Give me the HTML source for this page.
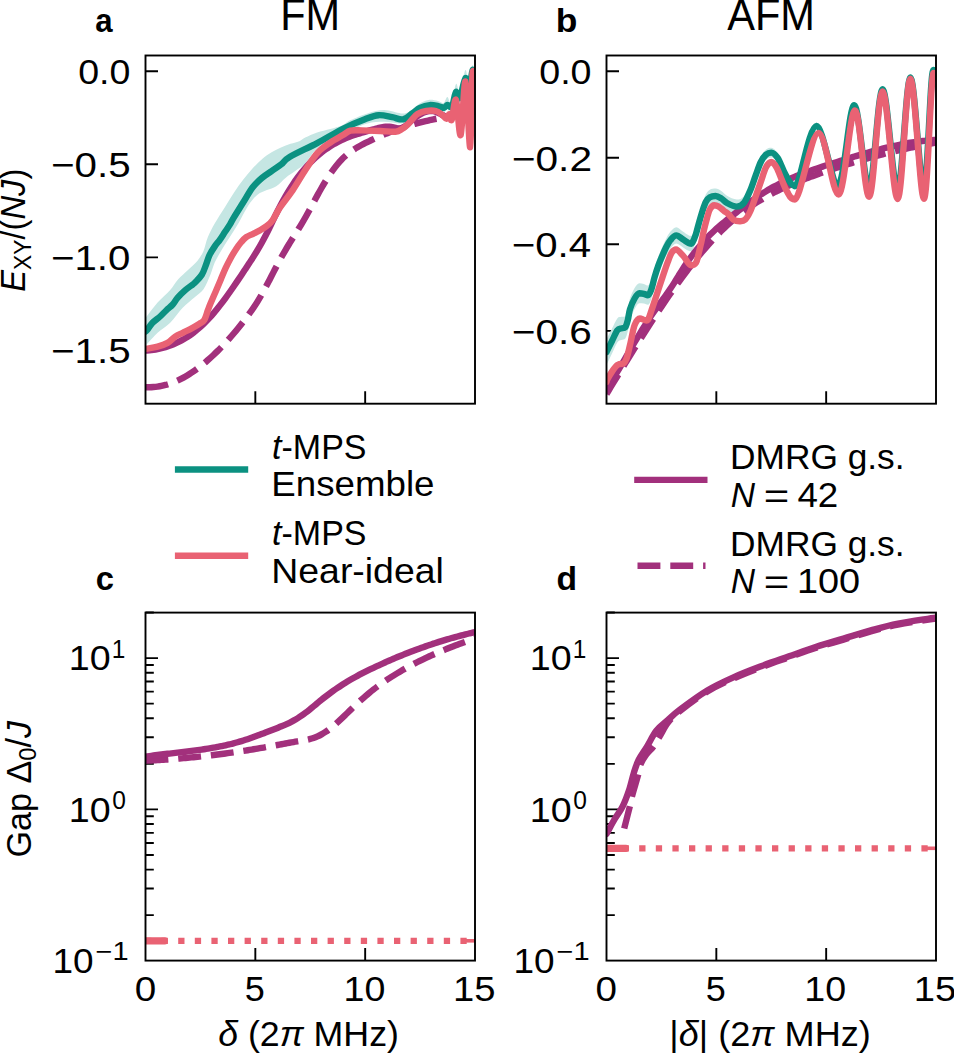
<!DOCTYPE html>
<html><head><meta charset="utf-8"><title>Figure</title>
<style>html,body{margin:0;padding:0;background:#fff;overflow:hidden}svg{display:block;font-family:"Liberation Sans",sans-serif;font-kerning:none}</style>
</head><body>
<svg width="954" height="1054" viewBox="0 0 954 1054"><defs><clipPath id="cla"><rect x="145.5" y="55.5" width="329.5" height="348.2"/></clipPath><clipPath id="clb"><rect x="606.5" y="55.5" width="329.5" height="348.2"/></clipPath><clipPath id="clc"><rect x="145.5" y="612.6" width="329.5" height="348.0"/></clipPath><clipPath id="cld"><rect x="606.5" y="612.6" width="329.5" height="348.0"/></clipPath></defs>
<path d="M255.33,403.7 V391.2 M365.17,403.7 V391.2 M716.33,403.7 V391.2 M826.17,403.7 V391.2 M255.33,960.6 V948.1 M365.17,960.6 V948.1 M716.33,960.6 V948.1 M826.17,960.6 V948.1 M145.5,71.2 H158 M145.5,164.3 H158 M145.5,257.4 H158 M145.5,350.5 H158 M606.5,71.2 H619 M606.5,157.75 H619 M606.5,244.3 H619 M606.5,330.85 H619 M145.5,809.40 H158.0 M145.5,658.10 H158.0 M606.5,809.40 H619.0 M606.5,658.10 H619.0" stroke="#000" stroke-width="1.9" fill="none"/>
<path d="M145.5,915.15 H153.8 M145.5,888.51 H153.8 M145.5,869.61 H153.8 M145.5,854.95 H153.8 M145.5,842.97 H153.8 M145.5,832.84 H153.8 M145.5,824.06 H153.8 M145.5,816.32 H153.8 M145.5,763.85 H153.8 M145.5,737.21 H153.8 M145.5,718.31 H153.8 M145.5,703.65 H153.8 M145.5,691.67 H153.8 M145.5,681.54 H153.8 M145.5,672.76 H153.8 M145.5,665.02 H153.8 M145.5,612.55 H153.8 M606.5,915.15 H614.8 M606.5,888.51 H614.8 M606.5,869.61 H614.8 M606.5,854.95 H614.8 M606.5,842.97 H614.8 M606.5,832.84 H614.8 M606.5,824.06 H614.8 M606.5,816.32 H614.8 M606.5,763.85 H614.8 M606.5,737.21 H614.8 M606.5,718.31 H614.8 M606.5,703.65 H614.8 M606.5,691.67 H614.8 M606.5,681.54 H614.8 M606.5,672.76 H614.8 M606.5,665.02 H614.8 M606.5,612.55 H614.8" stroke="#000" stroke-width="1.9" fill="none"/>
<g clip-path="url(#cla)"><path d="M145.50,318.00 C149.53,312.87 153.48,307.25 157.60,302.60 C161.72,297.95 166.80,293.95 170.20,290.10 C173.60,286.25 175.03,282.85 178.00,279.50 C180.97,276.15 184.78,273.10 188.00,270.00 C191.22,266.90 194.72,264.08 197.30,260.90 C199.88,257.72 201.75,254.85 203.50,250.90 C205.25,246.95 205.88,241.85 207.80,237.20 C209.72,232.55 212.23,227.88 215.00,223.00 C217.77,218.12 221.25,212.93 224.40,207.90 C227.55,202.87 230.75,197.52 233.90,192.80 C237.05,188.08 240.17,183.68 243.30,179.60 C246.43,175.52 249.55,171.75 252.70,168.30 C255.85,164.85 259.05,161.57 262.20,158.90 C265.35,156.23 268.47,154.20 271.60,152.30 C274.73,150.40 277.85,148.92 281.00,147.50 C284.15,146.08 287.35,144.90 290.50,143.80 C293.65,142.70 297.45,141.93 299.90,140.90 C302.35,139.87 302.33,139.00 305.20,137.60 C308.07,136.20 312.92,133.93 317.10,132.50 C321.28,131.07 326.15,130.17 330.30,129.00 C334.45,127.83 338.62,126.98 342.00,125.50 C345.38,124.02 346.37,122.12 350.60,120.10 C354.83,118.08 361.80,115.07 367.40,113.40 C373.00,111.73 378.60,110.10 384.20,110.10 C389.80,110.10 396.82,113.13 401.00,113.40 C405.18,113.67 406.30,113.27 409.30,111.70 C412.30,110.13 415.80,105.95 419.00,104.00 C422.20,102.05 425.33,100.50 428.50,100.00 C431.67,99.50 435.48,100.50 438.00,101.00 C440.52,101.50 442.03,103.67 443.60,103.00 C445.17,102.33 446.13,97.00 447.40,97.00 C448.67,97.00 449.77,105.17 451.20,103.00 C452.63,100.83 454.57,85.83 456.00,84.00 C457.43,82.17 458.22,94.33 459.80,92.00 C461.38,89.67 463.97,70.83 465.50,70.00 C467.03,69.17 467.82,87.83 469.00,87.00 C470.18,86.17 471.43,66.17 472.60,65.00 C473.77,63.83 474.87,75.00 476.00,80.00 L476.00,90.00 C474.87,85.00 473.77,73.83 472.60,75.00 C471.43,76.17 470.18,96.17 469.00,97.00 C467.82,97.83 467.03,79.00 465.50,80.00 C463.97,81.00 461.38,100.33 459.80,103.00 C458.22,105.67 457.43,94.33 456.00,96.00 C454.57,97.67 452.63,110.83 451.20,113.00 C449.77,115.17 448.67,109.00 447.40,109.00 C446.13,109.00 445.17,112.50 443.60,113.00 C442.03,113.50 440.52,112.50 438.00,112.00 C435.48,111.50 431.67,109.75 428.50,110.00 C425.33,110.25 422.20,111.82 419.00,113.50 C415.80,115.18 412.30,118.43 409.30,120.10 C406.30,121.77 405.18,123.22 401.00,123.50 C396.82,123.78 389.80,121.80 384.20,121.80 C378.60,121.80 373.00,122.10 367.40,123.50 C361.80,124.90 356.18,127.68 350.60,130.20 C345.02,132.72 339.48,135.53 333.90,138.60 C328.32,141.67 321.92,144.43 317.10,148.60 C312.28,152.77 308.65,159.85 305.00,163.60 C301.35,167.35 298.40,168.75 295.20,171.10 C292.00,173.45 288.95,175.18 285.80,177.70 C282.65,180.22 279.45,184.15 276.30,186.20 C273.15,188.25 270.03,188.58 266.90,190.00 C263.77,191.42 260.65,192.03 257.50,194.70 C254.35,197.37 251.15,201.28 248.00,206.00 C244.85,210.72 241.73,217.65 238.60,223.00 C235.47,228.35 232.20,233.32 229.20,238.10 C226.20,242.88 223.03,247.58 220.60,251.70 C218.17,255.82 216.30,258.95 214.60,262.80 C212.90,266.65 212.25,270.38 210.40,274.80 C208.55,279.22 206.07,285.60 203.50,289.30 C200.93,293.00 198.47,293.93 195.00,297.00 C191.53,300.07 186.83,303.40 182.70,307.70 C178.57,312.00 174.38,318.62 170.20,322.80 C166.02,326.98 161.48,329.23 157.60,332.80 C153.72,336.37 148.92,342.17 146.90,344.20 C144.88,346.23 145.97,344.73 145.50,345.00Z" fill="#c5e6e3" stroke="none"/><path d="M145.50,387.15 C146.83,387.18 148.17,387.26 149.50,387.24 C150.83,387.23 152.17,387.17 153.50,387.06 C154.83,386.96 156.17,386.81 157.50,386.61 C158.83,386.42 160.17,386.19 161.50,385.91 C162.83,385.63 164.17,385.31 165.50,384.94 C166.83,384.58 168.17,384.17 169.50,383.73 C170.83,383.28 172.17,382.79 173.50,382.26 C174.83,381.73 176.17,381.16 177.50,380.55 C178.83,379.95 180.17,379.30 181.50,378.61 C182.83,377.92 184.17,377.19 185.50,376.43 C186.83,375.66 188.17,374.86 189.50,374.02 C190.83,373.18 192.17,372.30 193.50,371.39 C194.83,370.47 196.17,369.52 197.50,368.53 C198.83,367.55 200.17,366.52 201.50,365.47 C202.83,364.41 204.17,363.31 205.50,362.19 C206.83,361.06 208.17,359.90 209.50,358.70 C210.83,357.51 212.17,356.28 213.50,355.01 C214.83,353.75 216.17,352.46 217.50,351.13 C218.83,349.80 220.17,348.44 221.50,347.05 C222.83,345.66 224.17,344.24 225.50,342.79 C226.83,341.34 228.17,339.86 229.50,338.34 C230.83,336.83 232.17,335.29 233.50,333.72 C234.83,332.15 236.17,330.55 237.50,328.92 C238.83,327.29 240.17,325.64 241.50,323.95 C242.83,322.27 244.17,320.57 245.50,318.81 C246.83,317.06 248.17,315.29 249.50,313.44 C250.83,311.60 252.17,309.71 253.50,307.73 C254.83,305.75 256.17,303.71 257.50,301.56 C258.83,299.41 260.17,297.16 261.50,294.82 C262.83,292.48 264.17,290.02 265.50,287.54 C266.83,285.05 268.17,282.47 269.50,279.91 C270.83,277.34 272.17,274.71 273.50,272.14 C274.83,269.56 276.17,266.95 277.50,264.43 C278.83,261.91 280.17,259.41 281.50,257.01 C282.83,254.61 284.17,252.29 285.50,250.03 C286.83,247.76 288.17,245.58 289.50,243.41 C290.83,241.24 292.17,239.12 293.50,236.99 C294.83,234.85 296.17,232.75 297.50,230.60 C298.83,228.44 300.17,226.30 301.50,224.07 C302.83,221.84 304.17,219.57 305.50,217.23 C306.83,214.89 308.17,212.45 309.50,210.00 C310.83,207.56 312.17,205.04 313.50,202.56 C314.83,200.09 316.17,197.57 317.50,195.14 C318.83,192.71 320.17,190.29 321.50,187.98 C322.83,185.66 324.17,183.41 325.50,181.25 C326.83,179.09 328.17,177.01 329.50,175.03 C330.83,173.05 332.17,171.15 333.50,169.35 C334.83,167.56 336.17,165.86 337.50,164.26 C338.83,162.67 340.17,161.19 341.50,159.81 C342.83,158.43 344.17,157.16 345.50,155.97 C346.83,154.78 348.17,153.69 349.50,152.66 C350.83,151.63 352.17,150.69 353.50,149.79 C354.83,148.89 356.17,148.07 357.50,147.28 C358.83,146.49 360.17,145.75 361.50,145.04 C362.83,144.32 364.17,143.64 365.50,142.97 C366.83,142.30 368.17,141.65 369.50,141.01 C370.83,140.37 372.17,139.74 373.50,139.12 C374.83,138.51 376.17,137.90 377.50,137.31 C378.83,136.72 380.17,136.14 381.50,135.57 C382.83,135.01 384.17,134.45 385.50,133.91 C386.83,133.37 388.17,132.84 389.50,132.32 C390.83,131.80 392.17,131.30 393.50,130.80 C394.83,130.31 396.17,129.82 397.50,129.35 C398.83,128.88 400.17,128.42 401.50,127.97 C402.83,127.53 404.17,127.09 405.50,126.67 C406.83,126.24 408.17,125.83 409.50,125.42 C410.83,125.02 412.17,124.63 413.50,124.25 C414.83,123.87 416.17,123.50 417.50,123.14 C418.83,122.78 420.17,122.43 421.50,122.10 C422.83,121.76 424.17,121.43 425.50,121.12 C426.83,120.80 428.17,120.50 429.50,120.20 C430.83,119.91 432.17,119.62 433.50,119.35 C434.83,119.07 436.17,118.81 437.50,118.56 C438.83,118.30 440.17,118.06 441.50,117.82 C442.83,117.59 444.17,117.37 445.50,117.15 C446.83,116.94 448.17,116.73 449.50,116.54 C450.83,116.34 452.17,116.16 453.50,115.98 C454.83,115.80 456.17,115.64 457.50,115.48 C458.83,115.32 460.17,115.18 461.50,115.04 C462.83,114.90 464.17,114.77 465.50,114.65 C466.83,114.53 468.17,114.41 469.50,114.31 C470.83,114.21 472.42,114.10 473.50,114.03 C474.58,113.96 475.17,113.93 476.00,113.88" fill="none" stroke="#a2307c" stroke-width="6.4" stroke-linejoin="round" stroke-linecap="butt" stroke-dasharray="22.9 9.9"/><path d="M145.50,350.68 C146.83,350.57 148.17,350.48 149.50,350.34 C150.83,350.20 152.17,350.03 153.50,349.83 C154.83,349.63 156.17,349.40 157.50,349.14 C158.83,348.87 160.17,348.58 161.50,348.25 C162.83,347.92 164.17,347.55 165.50,347.15 C166.83,346.75 168.17,346.31 169.50,345.83 C170.83,345.35 172.17,344.84 173.50,344.28 C174.83,343.72 176.17,343.12 177.50,342.48 C178.83,341.84 180.17,341.16 181.50,340.43 C182.83,339.70 184.17,338.93 185.50,338.11 C186.83,337.28 188.17,336.42 189.50,335.50 C190.83,334.58 192.17,333.62 193.50,332.60 C194.83,331.59 196.17,330.52 197.50,329.40 C198.83,328.28 200.17,327.11 201.50,325.88 C202.83,324.65 204.17,323.37 205.50,322.02 C206.83,320.68 208.17,319.28 209.50,317.83 C210.83,316.38 212.17,314.86 213.50,313.30 C214.83,311.74 216.17,310.12 217.50,308.47 C218.83,306.81 220.17,305.11 221.50,303.36 C222.83,301.62 224.17,299.84 225.50,298.02 C226.83,296.21 228.17,294.35 229.50,292.48 C230.83,290.60 232.17,288.69 233.50,286.76 C234.83,284.83 236.17,282.87 237.50,280.90 C238.83,278.93 240.17,276.94 241.50,274.94 C242.83,272.94 244.17,270.92 245.50,268.90 C246.83,266.88 248.17,264.87 249.50,262.81 C250.83,260.76 252.17,258.71 253.50,256.59 C254.83,254.47 256.17,252.32 257.50,250.09 C258.83,247.87 260.17,245.59 261.50,243.21 C262.83,240.84 264.17,238.39 265.50,235.82 C266.83,233.25 268.17,230.55 269.50,227.82 C270.83,225.09 272.17,222.23 273.50,219.47 C274.83,216.70 276.17,213.88 277.50,211.21 C278.83,208.54 280.17,205.95 281.50,203.45 C282.83,200.96 284.17,198.56 285.50,196.25 C286.83,193.94 288.17,191.72 289.50,189.58 C290.83,187.44 292.17,185.39 293.50,183.42 C294.83,181.45 296.17,179.56 297.50,177.75 C298.83,175.93 300.17,174.20 301.50,172.53 C302.83,170.86 304.17,169.27 305.50,167.75 C306.83,166.22 308.17,164.77 309.50,163.37 C310.83,161.98 312.17,160.65 313.50,159.38 C314.83,158.11 316.17,156.90 317.50,155.75 C318.83,154.59 320.17,153.50 321.50,152.45 C322.83,151.41 324.17,150.42 325.50,149.47 C326.83,148.52 328.17,147.63 329.50,146.77 C330.83,145.92 332.17,145.11 333.50,144.34 C334.83,143.57 336.17,142.85 337.50,142.15 C338.83,141.46 340.17,140.80 341.50,140.18 C342.83,139.55 344.17,138.96 345.50,138.40 C346.83,137.83 348.17,137.30 349.50,136.79 C350.83,136.27 352.17,135.79 353.50,135.32 C354.83,134.85 356.17,134.41 357.50,133.98 C358.83,133.55 360.17,133.14 361.50,132.73 C362.83,132.33 364.17,131.94 365.50,131.56 C366.83,131.18 368.17,130.81 369.50,130.44 C370.83,130.08 372.17,129.71 373.50,129.35 C374.83,128.99 376.17,128.61 377.50,128.28 C378.83,127.95 380.17,127.61 381.50,127.36 C382.83,127.11 384.17,126.88 385.50,126.77 C386.83,126.66 388.17,126.61 389.50,126.71 C390.83,126.80 392.17,127.06 393.50,127.35 C394.83,127.65 396.17,128.28 397.50,128.47 C398.83,128.65 400.17,128.88 401.50,128.47 C402.83,128.05 404.17,126.98 405.50,125.96 C406.83,124.94 408.17,123.52 409.50,122.35 C410.83,121.19 412.17,120.02 413.50,118.97 C414.83,117.91 416.17,116.90 417.50,116.00 C418.83,115.11 420.17,114.29 421.50,113.60 C422.83,112.92 424.17,112.33 425.50,111.91 C426.83,111.49 428.17,111.18 429.50,111.06 C430.83,110.95 432.17,110.97 433.50,111.21 C434.83,111.44 436.17,111.91 437.50,112.47 C438.83,113.02 440.17,113.87 441.50,114.54 C442.83,115.20 444.17,116.01 445.50,116.48 C446.83,116.94 448.17,117.28 449.50,117.33 C450.83,117.37 452.17,117.09 453.50,116.74 C454.83,116.38 456.17,115.78 457.50,115.20 C458.83,114.63 460.17,113.90 461.50,113.29 C462.83,112.68 464.17,112.01 465.50,111.55 C466.83,111.10 468.17,110.68 469.50,110.57 C470.83,110.45 472.42,110.64 473.50,110.88 C474.58,111.12 475.17,111.62 476.00,111.99" fill="none" stroke="#a2307c" stroke-width="6.4" stroke-linejoin="round" stroke-linecap="round"/><path d="M145.50,331.50 C145.97,331.10 145.73,331.75 146.90,330.30 C148.07,328.85 150.30,325.10 152.50,322.80 C154.70,320.50 157.78,318.60 160.10,316.50 C162.42,314.40 164.30,312.20 166.40,310.20 C168.50,308.20 170.82,306.60 172.70,304.50 C174.58,302.40 175.60,300.00 177.70,297.60 C179.80,295.20 182.78,292.30 185.30,290.10 C187.82,287.90 191.18,285.67 192.80,284.40 C194.42,283.13 193.50,284.10 195.00,282.50 C196.50,280.90 199.95,277.80 201.80,274.80 C203.65,271.80 204.82,267.78 206.10,264.50 C207.38,261.22 208.08,258.08 209.50,255.10 C210.92,252.12 212.88,249.15 214.60,246.60 C216.32,244.05 218.08,242.22 219.80,239.80 C221.52,237.38 223.20,234.67 224.90,232.10 C226.60,229.53 228.50,226.85 230.00,224.40 C231.50,221.95 231.68,221.08 233.90,217.40 C236.12,213.72 240.17,207.33 243.30,202.30 C246.43,197.27 249.55,191.30 252.70,187.20 C255.85,183.10 259.05,180.38 262.20,177.70 C265.35,175.02 268.47,173.30 271.60,171.10 C274.73,168.90 277.93,166.88 281.00,164.50 C284.07,162.12 283.97,160.37 290.00,156.80 C296.03,153.23 308.12,147.88 317.20,143.10 C326.28,138.32 336.55,132.07 344.50,128.10 C352.45,124.13 359.22,121.45 364.90,119.30 C370.58,117.15 374.05,115.55 378.60,115.20 C383.15,114.85 388.12,116.52 392.20,117.20 C396.28,117.88 399.70,119.97 403.10,119.30 C406.50,118.63 409.78,115.10 412.60,113.20 C415.42,111.30 417.17,109.25 420.00,107.90 C422.83,106.55 426.43,105.37 429.60,105.10 C432.77,104.83 436.60,105.85 439.00,106.30 C441.40,106.75 442.60,108.02 444.00,107.80 C445.40,107.58 446.32,105.13 447.40,105.00 C448.48,104.87 449.60,107.17 450.50,107.00 C451.40,106.83 451.88,106.50 452.80,104.00 C453.72,101.50 454.83,93.00 456.00,92.00 C457.17,91.00 458.22,100.33 459.80,98.00 C461.38,95.67 463.97,79.00 465.50,78.00 C467.03,77.00 467.82,93.33 469.00,92.00 C470.18,90.67 471.43,71.17 472.60,70.00 C473.77,68.83 474.87,80.00 476.00,85.00" fill="none" stroke="#0b9181" stroke-width="6.4" stroke-linejoin="round" stroke-linecap="round"/><path d="M145.50,348.70 C145.97,348.67 144.88,348.93 146.90,348.60 C148.92,348.27 154.15,347.65 157.60,346.70 C161.05,345.75 164.67,344.58 167.60,342.90 C170.53,341.22 172.68,338.28 175.20,336.60 C177.72,334.92 180.18,334.05 182.70,332.80 C185.22,331.55 187.57,330.57 190.30,329.10 C193.03,327.63 196.80,325.47 199.10,324.00 C201.40,322.53 202.63,322.60 204.10,320.30 C205.57,318.00 206.85,312.95 207.90,310.20 C208.95,307.45 209.13,306.85 210.40,303.80 C211.67,300.75 213.80,295.88 215.50,291.90 C217.20,287.92 218.90,283.90 220.60,279.90 C222.30,275.90 223.98,271.60 225.70,267.90 C227.42,264.20 229.18,260.82 230.90,257.70 C232.62,254.58 234.30,251.77 236.00,249.20 C237.70,246.63 239.40,244.30 241.10,242.30 C242.80,240.30 244.20,238.62 246.20,237.20 C248.20,235.78 250.82,234.93 253.10,233.80 C255.38,232.67 257.63,231.68 259.90,230.40 C262.17,229.12 264.57,227.82 266.70,226.10 C268.83,224.38 270.48,223.20 272.70,220.10 C274.92,217.00 276.68,212.45 280.00,207.50 C283.32,202.55 288.40,196.60 292.60,190.40 C296.80,184.20 301.02,176.58 305.20,170.30 C309.38,164.02 313.52,157.32 317.70,152.70 C321.88,148.08 326.10,145.53 330.30,142.60 C334.50,139.67 339.55,137.08 342.90,135.10 C346.25,133.12 347.25,131.48 350.40,130.70 C353.55,129.92 356.77,130.35 361.80,130.40 C366.83,130.45 374.98,130.78 380.60,131.00 C386.22,131.22 391.93,132.03 395.50,131.70 C399.07,131.37 399.98,130.18 402.00,129.00 C404.02,127.82 405.85,126.27 407.60,124.60 C409.35,122.93 410.85,120.77 412.50,119.00 C414.15,117.23 415.18,115.35 417.50,114.00 C419.82,112.65 423.33,111.40 426.40,110.90 C429.47,110.40 433.27,110.35 435.90,111.00 C438.53,111.65 440.43,113.50 442.20,114.80 C443.97,116.10 445.32,118.92 446.50,118.80 C447.68,118.68 448.43,113.93 449.30,114.10 C450.17,114.27 450.58,122.18 451.70,119.80 C452.82,117.42 454.50,97.27 456.00,99.80 C457.50,102.33 459.12,138.05 460.70,135.00 C462.28,131.95 463.92,79.45 465.50,81.50 C467.08,83.55 469.02,148.80 470.20,147.30 C471.38,145.80 471.63,80.38 472.60,72.50 C473.57,64.62 474.87,90.83 476.00,100.00" fill="none" stroke="#e96273" stroke-width="6.4" stroke-linejoin="round" stroke-linecap="round"/></g>
<g clip-path="url(#clb)"><path d="M606.50,339.04 C606.77,338.53 606.38,339.27 607.30,337.51 C608.22,335.76 610.33,331.72 612.00,328.53 C613.67,325.34 615.75,320.36 617.30,318.40 C618.85,316.43 619.97,317.17 621.30,316.75 C622.63,316.33 624.20,317.24 625.30,315.90 C626.40,314.57 627.12,311.68 627.90,308.73 C628.68,305.78 628.88,301.67 630.00,298.22 C631.12,294.77 633.05,290.54 634.60,288.02 C636.15,285.51 637.75,283.14 639.30,283.14 C640.85,283.14 642.47,283.59 643.90,284.00 C645.33,284.40 646.68,285.59 647.90,285.59 C649.12,285.59 650.08,283.30 651.20,280.36 C652.32,277.42 653.38,271.97 654.60,267.93 C655.82,263.89 657.18,259.71 658.50,256.12 C659.82,252.54 661.17,249.46 662.50,246.43 C663.83,243.39 665.17,240.41 666.50,237.92 C667.83,235.44 668.87,233.31 670.50,231.53 C672.13,229.74 674.18,227.22 676.30,227.22 C678.42,227.22 680.92,230.24 683.20,231.65 C685.48,233.06 688.48,235.67 690.00,235.67 C691.52,235.67 691.35,236.44 692.30,235.01 C693.25,233.57 694.57,230.46 695.70,227.06 C696.83,223.66 697.97,218.58 699.10,214.62 C700.23,210.65 701.37,206.67 702.50,203.28 C703.63,199.88 704.67,196.48 705.90,194.23 C707.13,191.99 708.28,190.74 709.90,189.80 C711.52,188.86 713.70,188.59 715.60,188.59 C717.50,188.59 719.40,189.89 721.30,191.09 C723.20,192.29 724.43,194.37 727.00,195.78 C729.57,197.19 733.87,199.54 736.70,199.54 C739.53,199.54 741.73,198.76 744.00,196.17 C746.27,193.57 748.37,188.41 750.30,183.99 C752.23,179.57 753.85,174.24 755.60,169.64 C757.35,165.04 759.07,159.75 760.80,156.39 C762.53,153.02 764.25,150.89 766.00,149.43 C767.75,147.98 769.37,147.66 771.30,147.66 C773.23,147.66 775.50,149.94 777.60,153.18 C779.70,156.42 781.98,163.15 783.90,167.09 C785.82,171.04 787.53,174.49 789.10,176.86 C790.67,179.22 791.73,181.26 793.30,181.26 C794.87,181.26 794.62,186.01 798.50,176.23 C802.38,166.44 810.02,122.56 816.60,122.56 C823.18,122.56 831.73,181.64 838.00,181.64 C844.27,181.64 849.03,101.89 854.20,101.89 C859.37,101.89 864.27,184.75 869.00,184.75 C873.73,184.75 877.85,86.09 882.60,86.09 C887.35,86.09 892.87,186.85 897.50,186.85 C902.13,186.85 906.03,74.39 910.40,74.39 C914.77,74.39 919.88,185.94 923.70,185.94 C927.52,185.94 930.25,66.98 933.30,66.98 C936.35,66.98 939.10,74.99 942.00,79.00 L942.00,85.00 C939.10,81.01 936.35,73.02 933.30,73.02 C930.25,73.02 927.52,192.06 923.70,192.06 C919.88,192.06 914.77,80.61 910.40,80.61 C906.03,80.61 902.13,193.15 897.50,193.15 C892.87,193.15 887.35,92.50 882.60,92.50 C877.85,92.50 873.73,191.25 869.00,191.25 C864.27,191.25 859.37,108.51 854.20,108.51 C849.03,108.51 844.27,188.36 838.00,188.36 C831.73,188.36 823.18,129.44 816.60,129.44 C810.02,129.44 802.38,173.46 798.50,183.38 C794.62,193.29 794.87,188.94 793.30,188.94 C791.73,188.94 790.67,187.15 789.10,184.94 C787.53,182.74 785.82,179.46 783.90,175.71 C781.98,171.95 779.70,165.45 777.60,162.42 C775.50,159.39 773.23,157.53 771.30,157.53 C769.37,157.53 767.75,158.29 766.00,159.97 C764.25,161.65 762.53,164.01 760.80,167.61 C759.07,171.21 757.35,176.73 755.60,181.56 C753.85,186.39 752.23,191.93 750.30,196.61 C748.37,201.29 746.27,206.79 744.00,209.63 C741.73,212.47 739.53,213.66 736.70,213.66 C733.87,213.66 729.57,211.54 727.00,210.22 C724.43,208.89 723.20,206.85 721.30,205.71 C719.40,204.58 717.50,203.41 715.60,203.41 C713.70,203.41 711.52,203.81 709.90,204.80 C708.28,205.80 707.13,207.08 705.90,209.37 C704.67,211.66 703.63,215.09 702.50,218.53 C701.37,221.96 700.23,225.98 699.10,229.98 C697.97,233.98 696.83,239.10 695.70,242.54 C694.57,245.97 693.25,249.13 692.30,250.59 C691.35,252.06 691.52,251.33 690.00,251.33 C688.48,251.33 685.48,248.84 683.20,247.55 C680.92,246.26 678.42,243.59 676.30,243.59 C674.18,243.59 672.13,246.53 670.50,248.47 C668.87,250.42 667.83,252.66 666.50,255.28 C665.17,257.89 663.83,261.01 662.50,264.18 C661.17,267.34 659.82,270.56 658.50,274.27 C657.18,277.99 655.82,282.31 654.60,286.47 C653.38,290.63 652.32,296.18 651.20,299.24 C650.08,302.30 649.12,304.81 647.90,304.81 C646.68,304.81 645.33,303.86 643.90,303.61 C642.47,303.35 640.85,303.26 639.30,303.26 C637.75,303.26 636.15,306.19 634.60,308.98 C633.05,311.76 631.12,316.33 630.00,319.98 C628.88,323.63 628.68,327.78 627.90,330.87 C627.12,333.95 626.40,336.97 625.30,338.50 C624.20,340.03 622.63,339.40 621.30,340.05 C619.97,340.70 618.85,340.17 617.30,342.40 C615.75,344.64 613.67,349.99 612.00,353.47 C610.33,356.95 608.22,361.37 607.30,363.29 C606.38,365.20 606.77,364.40 606.50,364.96Z" fill="#c5e6e3" stroke="none"/><path d="M606.50,394.06 C607.83,391.86 609.17,389.66 610.50,387.46 C611.83,385.26 613.17,383.07 614.50,380.87 C615.83,378.68 617.17,376.49 618.50,374.31 C619.83,372.12 621.17,369.94 622.50,367.77 C623.83,365.59 625.17,363.43 626.50,361.26 C627.83,359.10 629.17,356.94 630.50,354.80 C631.83,352.65 633.17,350.50 634.50,348.37 C635.83,346.24 637.17,344.11 638.50,342.00 C639.83,339.88 641.17,337.78 642.50,335.68 C643.83,333.58 645.17,331.50 646.50,329.42 C647.83,327.35 649.17,325.29 650.50,323.23 C651.83,321.18 653.17,319.14 654.50,317.12 C655.83,315.09 657.17,313.08 658.50,311.08 C659.83,309.08 661.17,307.10 662.50,305.13 C663.83,303.16 665.17,301.20 666.50,299.26 C667.83,297.32 669.17,295.40 670.50,293.49 C671.83,291.59 673.17,289.70 674.50,287.83 C675.83,285.95 677.17,284.10 678.50,282.26 C679.83,280.43 681.17,278.61 682.50,276.82 C683.83,275.02 685.17,273.24 686.50,271.49 C687.83,269.73 689.17,268.00 690.50,266.28 C691.83,264.57 693.17,262.88 694.50,261.21 C695.83,259.54 697.17,257.89 698.50,256.27 C699.83,254.64 701.17,253.04 702.50,251.47 C703.83,249.89 705.17,248.34 706.50,246.81 C707.83,245.29 709.17,243.79 710.50,242.32 C711.83,240.84 713.17,239.39 714.50,237.97 C715.83,236.55 717.17,235.16 718.50,233.80 C719.83,232.43 721.17,231.10 722.50,229.79 C723.83,228.48 725.17,227.20 726.50,225.96 C727.83,224.71 729.17,223.49 730.50,222.31 C731.83,221.12 733.17,219.96 734.50,218.83 C735.83,217.70 737.17,216.60 738.50,215.53 C739.83,214.46 741.17,213.41 742.50,212.39 C743.83,211.37 745.17,210.38 746.50,209.41 C747.83,208.44 749.17,207.50 750.50,206.58 C751.83,205.66 753.17,204.76 754.50,203.89 C755.83,203.01 757.17,202.16 758.50,201.33 C759.83,200.50 761.17,199.69 762.50,198.90 C763.83,198.10 765.17,197.34 766.50,196.58 C767.83,195.83 769.17,195.10 770.50,194.38 C771.83,193.67 773.17,192.97 774.50,192.28 C775.83,191.60 777.17,190.94 778.50,190.28 C779.83,189.63 781.17,189.00 782.50,188.37 C783.83,187.75 785.17,187.14 786.50,186.54 C787.83,185.94 789.17,185.36 790.50,184.79 C791.83,184.21 793.17,183.65 794.50,183.10 C795.83,182.54 797.17,182.00 798.50,181.47 C799.83,180.93 801.17,180.41 802.50,179.89 C803.83,179.37 805.17,178.86 806.50,178.36 C807.83,177.85 809.17,177.35 810.50,176.86 C811.83,176.37 813.17,175.88 814.50,175.39 C815.83,174.91 817.17,174.43 818.50,173.95 C819.83,173.48 821.17,173.00 822.50,172.54 C823.83,172.07 825.17,171.60 826.50,171.14 C827.83,170.68 829.17,170.23 830.50,169.78 C831.83,169.33 833.17,168.88 834.50,168.44 C835.83,167.99 837.17,167.56 838.50,167.12 C839.83,166.69 841.17,166.26 842.50,165.83 C843.83,165.40 845.17,164.98 846.50,164.56 C847.83,164.15 849.17,163.73 850.50,163.32 C851.83,162.91 853.17,162.51 854.50,162.11 C855.83,161.71 857.17,161.31 858.50,160.91 C859.83,160.52 861.17,160.13 862.50,159.75 C863.83,159.36 865.17,158.98 866.50,158.61 C867.83,158.23 869.17,157.86 870.50,157.49 C871.83,157.12 873.17,156.76 874.50,156.40 C875.83,156.04 877.17,155.68 878.50,155.33 C879.83,154.98 881.17,154.63 882.50,154.29 C883.83,153.94 885.17,153.60 886.50,153.27 C887.83,152.93 889.17,152.60 890.50,152.27 C891.83,151.95 893.17,151.62 894.50,151.31 C895.83,150.99 897.17,150.67 898.50,150.36 C899.83,150.05 901.17,149.74 902.50,149.44 C903.83,149.14 905.17,148.84 906.50,148.55 C907.83,148.25 909.17,147.96 910.50,147.67 C911.83,147.39 913.17,147.11 914.50,146.83 C915.83,146.55 917.17,146.28 918.50,146.01 C919.83,145.74 921.17,145.47 922.50,145.21 C923.83,144.95 925.17,144.69 926.50,144.44 C927.83,144.18 929.17,143.93 930.50,143.69 C931.83,143.44 933.58,143.13 934.50,142.96 C935.42,142.80 935.50,142.78 936.00,142.70" fill="none" stroke="#a2307c" stroke-width="6.4" stroke-linejoin="round" stroke-linecap="butt" stroke-dasharray="22.9 9.9"/><path d="M606.50,388.74 C607.83,386.73 609.17,384.76 610.50,382.69 C611.83,380.63 613.17,378.50 614.50,376.35 C615.83,374.19 617.17,371.99 618.50,369.77 C619.83,367.55 621.17,365.29 622.50,363.03 C623.83,360.77 625.17,358.48 626.50,356.20 C627.83,353.91 629.17,351.61 630.50,349.33 C631.83,347.05 633.17,344.76 634.50,342.50 C635.83,340.24 637.17,337.99 638.50,335.78 C639.83,333.56 641.17,331.37 642.50,329.22 C643.83,327.07 645.17,324.96 646.50,322.88 C647.83,320.81 649.17,318.78 650.50,316.79 C651.83,314.79 653.17,312.84 654.50,310.93 C655.83,309.03 657.17,307.18 658.50,305.33 C659.83,303.49 661.17,301.70 662.50,299.87 C663.83,298.04 665.17,296.23 666.50,294.34 C667.83,292.46 669.17,290.56 670.50,288.57 C671.83,286.57 673.17,284.48 674.50,282.36 C675.83,280.24 677.17,278.01 678.50,275.85 C679.83,273.70 681.17,271.51 682.50,269.43 C683.83,267.35 685.17,265.32 686.50,263.37 C687.83,261.42 689.17,259.54 690.50,257.71 C691.83,255.88 693.17,254.12 694.50,252.41 C695.83,250.70 697.17,249.05 698.50,247.44 C699.83,245.84 701.17,244.30 702.50,242.80 C703.83,241.29 705.17,239.84 706.50,238.44 C707.83,237.03 709.17,235.67 710.50,234.35 C711.83,233.03 713.17,231.75 714.50,230.51 C715.83,229.27 717.17,228.06 718.50,226.89 C719.83,225.71 721.17,224.58 722.50,223.46 C723.83,222.34 725.17,221.25 726.50,220.17 C727.83,219.09 729.17,218.04 730.50,216.99 C731.83,215.94 733.17,214.91 734.50,213.88 C735.83,212.85 737.17,211.83 738.50,210.80 C739.83,209.77 741.17,208.74 742.50,207.71 C743.83,206.69 745.17,205.66 746.50,204.64 C747.83,203.63 749.17,202.62 750.50,201.64 C751.83,200.66 753.17,199.70 754.50,198.76 C755.83,197.83 757.17,196.92 758.50,196.03 C759.83,195.14 761.17,194.28 762.50,193.44 C763.83,192.60 765.17,191.78 766.50,190.98 C767.83,190.18 769.17,189.41 770.50,188.65 C771.83,187.89 773.17,187.15 774.50,186.44 C775.83,185.72 777.17,185.02 778.50,184.33 C779.83,183.65 781.17,182.99 782.50,182.34 C783.83,181.69 785.17,181.06 786.50,180.44 C787.83,179.82 789.17,179.22 790.50,178.63 C791.83,178.05 793.17,177.47 794.50,176.91 C795.83,176.35 797.17,175.80 798.50,175.27 C799.83,174.73 801.17,174.20 802.50,173.69 C803.83,173.17 805.17,172.67 806.50,172.18 C807.83,171.68 809.17,171.20 810.50,170.72 C811.83,170.24 813.17,169.77 814.50,169.31 C815.83,168.85 817.17,168.39 818.50,167.94 C819.83,167.50 821.17,167.05 822.50,166.61 C823.83,166.17 825.17,165.74 826.50,165.31 C827.83,164.88 829.17,164.45 830.50,164.03 C831.83,163.60 833.17,163.18 834.50,162.76 C835.83,162.34 837.17,161.91 838.50,161.50 C839.83,161.08 841.17,160.66 842.50,160.24 C843.83,159.82 845.17,159.41 846.50,159.00 C847.83,158.58 849.17,158.17 850.50,157.76 C851.83,157.36 853.17,156.95 854.50,156.55 C855.83,156.14 857.17,155.75 858.50,155.35 C859.83,154.95 861.17,154.56 862.50,154.17 C863.83,153.78 865.17,153.40 866.50,153.02 C867.83,152.64 869.17,152.27 870.50,151.90 C871.83,151.53 873.17,151.16 874.50,150.80 C875.83,150.44 877.17,150.09 878.50,149.74 C879.83,149.39 881.17,149.05 882.50,148.71 C883.83,148.38 885.17,148.05 886.50,147.72 C887.83,147.40 889.17,147.09 890.50,146.78 C891.83,146.47 893.17,146.17 894.50,145.88 C895.83,145.58 897.17,145.30 898.50,145.02 C899.83,144.75 901.17,144.48 902.50,144.22 C903.83,143.96 905.17,143.71 906.50,143.47 C907.83,143.22 909.17,142.99 910.50,142.77 C911.83,142.55 913.17,142.34 914.50,142.13 C915.83,141.93 917.17,141.74 918.50,141.56 C919.83,141.38 921.17,141.21 922.50,141.05 C923.83,140.89 925.17,140.74 926.50,140.60 C927.83,140.47 929.17,140.34 930.50,140.23 C931.83,140.12 933.58,140.00 934.50,139.93 C935.42,139.86 935.50,139.87 936.00,139.84" fill="none" stroke="#a2307c" stroke-width="6.4" stroke-linejoin="round" stroke-linecap="round"/><path d="M606.50,352.00 C606.77,351.47 606.38,352.23 607.30,350.40 C608.22,348.57 610.33,344.33 612.00,341.00 C613.67,337.67 615.75,332.50 617.30,330.40 C618.85,328.30 619.97,328.93 621.30,328.40 C622.63,327.87 624.20,328.63 625.30,327.20 C626.40,325.77 627.12,322.82 627.90,319.80 C628.68,316.78 628.88,312.65 630.00,309.10 C631.12,305.55 633.05,301.15 634.60,298.50 C636.15,295.85 637.75,293.20 639.30,293.20 C640.85,293.20 642.47,293.47 643.90,293.80 C645.33,294.13 646.68,295.20 647.90,295.20 C649.12,295.20 650.08,292.80 651.20,289.80 C652.32,286.80 653.38,281.30 654.60,277.20 C655.82,273.10 657.18,268.85 658.50,265.20 C659.82,261.55 661.17,258.40 662.50,255.30 C663.83,252.20 665.17,249.15 666.50,246.60 C667.83,244.05 668.87,241.87 670.50,240.00 C672.13,238.13 674.18,235.40 676.30,235.40 C678.42,235.40 680.92,238.25 683.20,239.60 C685.48,240.95 688.48,243.50 690.00,243.50 C691.52,243.50 691.35,244.25 692.30,242.80 C693.25,241.35 694.57,238.22 695.70,234.80 C696.83,231.38 697.97,226.28 699.10,222.30 C700.23,218.32 701.37,214.32 702.50,210.90 C703.63,207.48 704.67,204.07 705.90,201.80 C707.13,199.53 708.28,198.27 709.90,197.30 C711.52,196.33 713.70,196.00 715.60,196.00 C717.50,196.00 719.40,197.23 721.30,198.40 C723.20,199.57 724.43,201.63 727.00,203.00 C729.57,204.37 733.87,206.60 736.70,206.60 C739.53,206.60 741.73,205.62 744.00,202.90 C746.27,200.18 748.37,194.85 750.30,190.30 C752.23,185.75 753.85,180.32 755.60,175.60 C757.35,170.88 759.07,165.48 760.80,162.00 C762.53,158.52 764.25,156.27 766.00,154.70 C767.75,153.13 769.37,152.60 771.30,152.60 C773.23,152.60 775.50,154.67 777.60,157.80 C779.70,160.93 781.98,167.55 783.90,171.40 C785.82,175.25 787.53,178.62 789.10,180.90 C790.67,183.18 791.73,185.10 793.30,185.10 C794.87,185.10 794.62,189.65 798.50,179.80 C802.38,169.95 810.02,126.00 816.60,126.00 C823.18,126.00 831.73,185.00 838.00,185.00 C844.27,185.00 849.03,105.20 854.20,105.20 C859.37,105.20 864.27,188.00 869.00,188.00 C873.73,188.00 877.85,89.30 882.60,89.30 C887.35,89.30 892.87,190.00 897.50,190.00 C902.13,190.00 906.03,77.50 910.40,77.50 C914.77,77.50 919.88,189.00 923.70,189.00 C927.52,189.00 930.25,70.00 933.30,70.00 C936.35,70.00 939.10,78.00 942.00,82.00" fill="none" stroke="#0b9181" stroke-width="6.4" stroke-linejoin="round" stroke-linecap="round"/><path d="M606.50,382.00 C606.77,381.20 606.38,381.33 607.30,379.60 C608.22,377.87 610.33,374.03 612.00,371.60 C613.67,369.17 615.53,366.32 617.30,365.00 C619.07,363.68 621.05,363.70 622.60,363.70 C624.15,363.70 625.27,361.85 626.60,358.30 C627.93,354.75 629.27,347.93 630.60,342.40 C631.93,336.87 633.05,329.08 634.60,325.10 C636.15,321.12 638.35,318.50 639.90,318.50 C641.45,318.50 642.57,319.58 643.90,319.80 C645.23,320.02 646.57,321.58 647.90,319.80 C649.23,318.02 650.35,313.53 651.90,309.10 C653.45,304.67 655.43,298.52 657.20,293.20 C658.97,287.88 660.73,282.42 662.50,277.20 C664.27,271.98 666.25,266.00 667.80,261.90 C669.35,257.80 670.43,254.67 671.80,252.60 C673.17,250.53 674.10,249.50 676.00,249.50 C677.90,249.50 680.72,253.27 683.20,255.90 C685.68,258.53 688.77,265.30 690.90,265.30 C693.03,265.30 694.73,264.55 696.00,262.70 C697.27,260.85 697.60,257.70 698.50,254.20 C699.40,250.70 700.45,245.88 701.40,241.70 C702.35,237.52 703.25,233.08 704.20,229.10 C705.15,225.12 706.15,221.12 707.10,217.80 C708.05,214.48 708.72,211.30 709.90,209.20 C711.08,207.10 712.77,205.20 714.20,205.20 C715.63,205.20 716.85,205.45 718.50,206.40 C720.15,207.35 722.40,209.57 724.10,210.90 C725.80,212.23 727.13,212.93 728.70,214.40 C730.27,215.87 731.65,218.57 733.50,219.70 C735.35,220.83 737.87,221.20 739.80,221.20 C741.73,221.20 743.35,221.35 745.10,219.70 C746.85,218.05 748.55,215.15 750.30,211.30 C752.05,207.45 753.85,201.50 755.60,196.60 C757.35,191.70 759.07,186.78 760.80,181.90 C762.53,177.02 764.25,170.62 766.00,167.30 C767.75,163.98 769.55,162.00 771.30,162.00 C773.05,162.00 774.75,164.33 776.50,167.30 C778.25,170.27 780.05,175.78 781.80,179.80 C783.55,183.82 784.80,188.12 787.00,191.40 C789.20,194.68 789.75,199.50 795.00,199.50 C800.25,199.50 811.25,133.00 818.50,133.00 C825.75,133.00 832.43,194.50 838.50,194.50 C844.57,194.50 849.80,110.40 854.90,110.40 C860.00,110.40 864.48,196.80 869.10,196.80 C873.72,196.80 877.85,91.50 882.60,91.50 C887.35,91.50 892.97,199.00 897.60,199.00 C902.23,199.00 906.02,78.70 910.40,78.70 C914.78,78.70 920.03,198.80 923.90,198.80 C927.77,198.80 930.58,73.00 933.60,73.00 C936.62,73.00 939.20,83.00 942.00,88.00" fill="none" stroke="#e96273" stroke-width="6.4" stroke-linejoin="round" stroke-linecap="round"/></g>
<g clip-path="url(#clc)"><path d="M145.50,760.77 C146.83,760.70 148.17,760.64 149.50,760.57 C150.83,760.50 152.17,760.43 153.50,760.35 C154.83,760.28 156.17,760.20 157.50,760.12 C158.83,760.04 160.17,759.96 161.50,759.87 C162.83,759.78 164.17,759.69 165.50,759.60 C166.83,759.51 168.17,759.41 169.50,759.31 C170.83,759.22 172.17,759.11 173.50,759.01 C174.83,758.91 176.17,758.80 177.50,758.69 C178.83,758.58 180.17,758.46 181.50,758.35 C182.83,758.23 184.17,758.11 185.50,757.99 C186.83,757.87 188.17,757.75 189.50,757.62 C190.83,757.49 192.17,757.36 193.50,757.23 C194.83,757.09 196.17,756.96 197.50,756.82 C198.83,756.68 200.17,756.54 201.50,756.39 C202.83,756.25 204.17,756.10 205.50,755.95 C206.83,755.80 208.17,755.64 209.50,755.49 C210.83,755.33 212.17,755.17 213.50,755.01 C214.83,754.85 216.17,754.68 217.50,754.51 C218.83,754.34 220.17,754.17 221.50,754.00 C222.83,753.83 224.17,753.65 225.50,753.47 C226.83,753.29 228.17,753.11 229.50,752.92 C230.83,752.73 232.17,752.55 233.50,752.35 C234.83,752.16 236.17,751.97 237.50,751.77 C238.83,751.58 240.17,751.38 241.50,751.17 C242.83,750.97 244.17,750.76 245.50,750.56 C246.83,750.35 248.17,750.14 249.50,749.92 C250.83,749.71 252.17,749.49 253.50,749.27 C254.83,749.05 256.17,748.83 257.50,748.60 C258.83,748.37 260.17,748.15 261.50,747.91 C262.83,747.68 264.17,747.45 265.50,747.21 C266.83,746.97 268.17,746.73 269.50,746.49 C270.83,746.25 272.17,746.00 273.50,745.75 C274.83,745.50 276.17,745.25 277.50,745.00 C278.83,744.75 280.17,744.50 281.50,744.25 C282.83,744.00 284.17,743.75 285.50,743.50 C286.83,743.25 288.17,743.00 289.50,742.76 C290.83,742.52 292.17,742.27 293.50,742.04 C294.83,741.80 296.17,741.57 297.50,741.34 C298.83,741.11 300.17,740.90 301.50,740.68 C302.83,740.45 304.17,740.25 305.50,739.99 C306.83,739.74 308.17,739.48 309.50,739.15 C310.83,738.81 312.17,738.45 313.50,738.00 C314.83,737.55 316.17,737.03 317.50,736.43 C318.83,735.83 320.17,735.15 321.50,734.40 C322.83,733.65 324.17,732.83 325.50,731.94 C326.83,731.05 328.17,730.08 329.50,729.05 C330.83,728.03 332.17,726.93 333.50,725.81 C334.83,724.68 336.17,723.49 337.50,722.29 C338.83,721.09 340.17,719.84 341.50,718.59 C342.83,717.34 344.17,716.05 345.50,714.77 C346.83,713.49 348.17,712.19 349.50,710.90 C350.83,709.61 352.17,708.31 353.50,707.03 C354.83,705.76 356.17,704.48 357.50,703.24 C358.83,701.99 360.17,700.77 361.50,699.58 C362.83,698.38 364.17,697.22 365.50,696.08 C366.83,694.95 368.17,693.84 369.50,692.76 C370.83,691.67 372.17,690.61 373.50,689.58 C374.83,688.54 376.17,687.53 377.50,686.54 C378.83,685.55 380.17,684.58 381.50,683.63 C382.83,682.68 384.17,681.76 385.50,680.85 C386.83,679.93 388.17,679.04 389.50,678.17 C390.83,677.29 392.17,676.43 393.50,675.59 C394.83,674.75 396.17,673.92 397.50,673.11 C398.83,672.30 400.17,671.50 401.50,670.72 C402.83,669.94 404.17,669.17 405.50,668.42 C406.83,667.67 408.17,666.93 409.50,666.21 C410.83,665.48 412.17,664.77 413.50,664.07 C414.83,663.38 416.17,662.69 417.50,662.02 C418.83,661.34 420.17,660.68 421.50,660.03 C422.83,659.38 424.17,658.74 425.50,658.11 C426.83,657.49 428.17,656.87 429.50,656.26 C430.83,655.65 432.17,655.06 433.50,654.47 C434.83,653.88 436.17,653.30 437.50,652.73 C438.83,652.16 440.17,651.60 441.50,651.04 C442.83,650.49 444.17,649.94 445.50,649.40 C446.83,648.86 448.17,648.33 449.50,647.80 C450.83,647.28 452.17,646.76 453.50,646.24 C454.83,645.73 456.17,645.22 457.50,644.72 C458.83,644.22 460.17,643.72 461.50,643.23 C462.83,642.73 464.17,642.24 465.50,641.76 C466.83,641.27 468.17,640.79 469.50,640.31 C470.83,639.83 472.42,639.27 473.50,638.88 C474.58,638.50 475.17,638.29 476.00,638.00" fill="none" stroke="#a2307c" stroke-width="6.4" stroke-linejoin="round" stroke-linecap="butt" stroke-dasharray="22.9 9.9"/><path d="M145.50,756.64 C146.83,756.45 148.17,756.25 149.50,756.07 C150.83,755.88 152.17,755.70 153.50,755.52 C154.83,755.34 156.17,755.17 157.50,755.00 C158.83,754.83 160.17,754.67 161.50,754.51 C162.83,754.34 164.17,754.19 165.50,754.03 C166.83,753.87 168.17,753.72 169.50,753.56 C170.83,753.41 172.17,753.25 173.50,753.10 C174.83,752.95 176.17,752.79 177.50,752.64 C178.83,752.49 180.17,752.33 181.50,752.17 C182.83,752.02 184.17,751.86 185.50,751.70 C186.83,751.54 188.17,751.38 189.50,751.21 C190.83,751.04 192.17,750.88 193.50,750.70 C194.83,750.53 196.17,750.35 197.50,750.17 C198.83,749.98 200.17,749.80 201.50,749.60 C202.83,749.41 204.17,749.21 205.50,749.00 C206.83,748.79 208.17,748.58 209.50,748.35 C210.83,748.13 212.17,747.90 213.50,747.66 C214.83,747.43 216.17,747.18 217.50,746.92 C218.83,746.66 220.17,746.40 221.50,746.12 C222.83,745.84 224.17,745.56 225.50,745.26 C226.83,744.96 228.17,744.65 229.50,744.33 C230.83,744.00 232.17,743.67 233.50,743.32 C234.83,742.98 236.17,742.62 237.50,742.24 C238.83,741.87 240.17,741.48 241.50,741.07 C242.83,740.67 244.17,740.25 245.50,739.82 C246.83,739.39 248.17,738.94 249.50,738.48 C250.83,738.02 252.17,737.55 253.50,737.07 C254.83,736.59 256.17,736.10 257.50,735.60 C258.83,735.11 260.17,734.60 261.50,734.10 C262.83,733.59 264.17,733.08 265.50,732.56 C266.83,732.05 268.17,731.53 269.50,731.02 C270.83,730.51 272.17,729.99 273.50,729.48 C274.83,728.96 276.17,728.45 277.50,727.93 C278.83,727.40 280.17,726.87 281.50,726.32 C282.83,725.77 284.17,725.21 285.50,724.61 C286.83,724.01 288.17,723.40 289.50,722.75 C290.83,722.09 292.17,721.41 293.50,720.68 C294.83,719.95 296.17,719.18 297.50,718.36 C298.83,717.54 300.17,716.67 301.50,715.74 C302.83,714.82 304.17,713.83 305.50,712.82 C306.83,711.81 308.17,710.75 309.50,709.68 C310.83,708.60 312.17,707.49 313.50,706.39 C314.83,705.29 316.17,704.17 317.50,703.06 C318.83,701.96 320.17,700.85 321.50,699.78 C322.83,698.70 324.17,697.65 325.50,696.61 C326.83,695.58 328.17,694.56 329.50,693.57 C330.83,692.58 332.17,691.61 333.50,690.67 C334.83,689.72 336.17,688.79 337.50,687.89 C338.83,686.98 340.17,686.10 341.50,685.24 C342.83,684.38 344.17,683.54 345.50,682.72 C346.83,681.90 348.17,681.10 349.50,680.32 C350.83,679.53 352.17,678.77 353.50,678.02 C354.83,677.27 356.17,676.54 357.50,675.83 C358.83,675.11 360.17,674.40 361.50,673.71 C362.83,673.02 364.17,672.34 365.50,671.68 C366.83,671.01 368.17,670.35 369.50,669.70 C370.83,669.05 372.17,668.41 373.50,667.78 C374.83,667.14 376.17,666.52 377.50,665.90 C378.83,665.27 380.17,664.66 381.50,664.05 C382.83,663.44 384.17,662.84 385.50,662.25 C386.83,661.65 388.17,661.07 389.50,660.48 C390.83,659.90 392.17,659.33 393.50,658.76 C394.83,658.19 396.17,657.63 397.50,657.07 C398.83,656.52 400.17,655.97 401.50,655.42 C402.83,654.88 404.17,654.34 405.50,653.82 C406.83,653.29 408.17,652.76 409.50,652.25 C410.83,651.73 412.17,651.22 413.50,650.72 C414.83,650.21 416.17,649.71 417.50,649.22 C418.83,648.73 420.17,648.25 421.50,647.77 C422.83,647.30 424.17,646.82 425.50,646.36 C426.83,645.90 428.17,645.44 429.50,644.99 C430.83,644.54 432.17,644.09 433.50,643.65 C434.83,643.21 436.17,642.78 437.50,642.36 C438.83,641.93 440.17,641.51 441.50,641.10 C442.83,640.69 444.17,640.28 445.50,639.89 C446.83,639.49 448.17,639.09 449.50,638.71 C450.83,638.32 452.17,637.94 453.50,637.57 C454.83,637.20 456.17,636.83 457.50,636.47 C458.83,636.11 460.17,635.76 461.50,635.42 C462.83,635.07 464.17,634.73 465.50,634.40 C466.83,634.06 468.17,633.74 469.50,633.42 C470.83,633.10 472.42,632.73 473.50,632.48 C474.58,632.23 475.17,632.10 476.00,631.91" fill="none" stroke="#a2307c" stroke-width="6.4" stroke-linejoin="round" stroke-linecap="round"/><rect x="140" y="937.2" width="27.900000000000006" height="7.2" rx="3" fill="#e96273"/><line x1="145.0" y1="940.8" x2="466.7" y2="940.8" stroke="#e96273" stroke-width="6.3" stroke-dasharray="6.3 10.3"/><rect x="465" y="939" width="12" height="3.6" fill="#e96273"/></g>
<g clip-path="url(#cld)"><path d="M624.20,828.50 C626.07,821.17 628.45,812.05 629.80,806.50 C631.15,800.95 630.95,800.32 632.30,795.20 C633.65,790.08 636.57,780.83 637.90,775.80 C639.23,770.77 638.95,768.47 640.30,765.00 C641.65,761.53 643.85,758.03 646.00,755.00 C648.15,751.97 650.92,749.92 653.20,746.80 C655.48,743.68 657.23,740.35 659.70,736.30 C662.17,732.25 664.62,726.72 668.00,722.50 C671.38,718.28 673.45,716.17 680.00,711.00 C686.55,705.83 698.22,697.00 707.30,691.50 C716.38,686.00 725.42,682.08 734.50,678.00 C743.58,673.92 752.72,670.45 761.80,667.00 C770.88,663.55 779.92,660.50 789.00,657.30 C798.08,654.10 807.22,650.75 816.30,647.80 C825.38,644.85 834.42,642.33 843.50,639.60 C852.58,636.87 861.72,633.90 870.80,631.40 C879.88,628.90 886.97,626.78 898.00,624.60 C909.03,622.42 924.00,620.40 937.00,618.30" fill="none" stroke="#a2307c" stroke-width="6.4" stroke-linejoin="round" stroke-linecap="butt" stroke-dasharray="22.9 9.9"/><path d="M606.50,833.90 C609.17,829.07 611.82,823.97 614.50,819.40 C617.18,814.83 620.18,811.35 622.60,806.50 C625.02,801.65 627.12,795.95 629.00,790.30 C630.88,784.65 632.28,777.70 633.90,772.60 C635.52,767.50 636.55,764.00 638.70,759.70 C640.85,755.40 643.83,751.65 646.80,746.80 C649.77,741.95 652.97,735.07 656.50,730.60 C660.03,726.13 664.08,723.52 668.00,720.00 C671.92,716.48 673.45,714.43 680.00,709.50 C686.55,704.57 698.22,695.85 707.30,690.40 C716.38,684.95 725.42,680.88 734.50,676.80 C743.58,672.72 752.72,669.32 761.80,665.90 C770.88,662.48 779.92,659.48 789.00,656.30 C798.08,653.12 807.22,649.75 816.30,646.80 C825.38,643.85 834.42,641.33 843.50,638.60 C852.58,635.87 861.72,632.90 870.80,630.40 C879.88,627.90 886.97,625.78 898.00,623.60 C909.03,621.42 924.00,619.40 937.00,617.30" fill="none" stroke="#a2307c" stroke-width="6.4" stroke-linejoin="round" stroke-linecap="round"/><rect x="600" y="844.7" width="29" height="7.2" rx="3" fill="#e96273"/><line x1="606.0" y1="848.3" x2="927.7" y2="848.3" stroke="#e96273" stroke-width="6.3" stroke-dasharray="6.3 10.3"/><rect x="926" y="846.5" width="12" height="3.6" fill="#e96273"/></g>
<rect x="145.5" y="55.5" width="329.5" height="348.2" fill="none" stroke="#000" stroke-width="1.9"/>
<rect x="606.5" y="55.5" width="329.5" height="348.2" fill="none" stroke="#000" stroke-width="1.9"/>
<rect x="145.5" y="612.6" width="329.5" height="348.0" fill="none" stroke="#000" stroke-width="1.9"/>
<rect x="606.5" y="612.6" width="329.5" height="348.0" fill="none" stroke="#000" stroke-width="1.9"/>
<line x1="174.9" y1="469.5" x2="248.2" y2="469.5" stroke="#0b9181" stroke-width="6.4"/>
<line x1="174.9" y1="555.8" x2="248.2" y2="555.8" stroke="#e96273" stroke-width="6.4"/>
<line x1="634.2" y1="479.9" x2="707.5" y2="479.9" stroke="#a2307c" stroke-width="6.4"/>
<line x1="637.5" y1="565.7" x2="705.5" y2="565.7" stroke="#a2307c" stroke-width="6.4" stroke-dasharray="22.9 9.9"/>
<text transform="translate(280.29,30.40) scale(0.9363,1)" font-size="44.3">FM</text>
<text transform="translate(727.17,30.40) scale(0.9382,1)" font-size="44.3">AFM</text>
<text transform="translate(95.36,32.00) scale(0.9352,1)" font-size="33.3" font-weight="bold">a</text>
<text transform="translate(555.81,32.20) scale(1.0627,1)" font-size="33.3" font-weight="bold">b</text>
<text transform="translate(95.67,589.70) scale(0.9846,1)" font-size="33.3" font-weight="bold">c</text>
<text transform="translate(556.54,589.60) scale(1.0118,1)" font-size="33.3" font-weight="bold">d</text>
<text transform="translate(78.20,83.95) scale(1.0674,1)" font-size="35.2">0.0</text>
<text transform="translate(51.00,177.05) scale(1.1457,1)" font-size="35.2">−0.5</text>
<text transform="translate(51.00,270.15) scale(1.1414,1)" font-size="35.2">−1.0</text>
<text transform="translate(51.00,363.25) scale(1.1457,1)" font-size="35.2">−1.5</text>
<text transform="translate(539.20,83.95) scale(1.0696,1)" font-size="35.2">0.0</text>
<text transform="translate(511.78,170.50) scale(1.1545,1)" font-size="35.2">−0.2</text>
<text transform="translate(511.80,257.05) scale(1.1416,1)" font-size="35.2">−0.4</text>
<text transform="translate(511.79,343.60) scale(1.1502,1)" font-size="35.2">−0.6</text>
<text transform="translate(68.76,669.90) scale(1.0686,1)" font-size="35.2">10</text>
<text transform="translate(111.75,657.70) scale(0.9767,1)" font-size="25.0">1</text>
<text transform="translate(68.76,821.50) scale(1.0686,1)" font-size="35.2">10</text>
<text transform="translate(112.22,809.30) scale(0.9833,1)" font-size="25.0">0</text>
<text transform="translate(52.51,973.00) scale(1.0514,1)" font-size="35.2">10</text>
<text transform="translate(95.45,960.20) scale(1.1615,1)" font-size="25.0">−1</text>
<text transform="translate(529.76,669.90) scale(1.0686,1)" font-size="35.2">10</text>
<text transform="translate(572.75,657.70) scale(0.9767,1)" font-size="25.0">1</text>
<text transform="translate(529.76,821.50) scale(1.0686,1)" font-size="35.2">10</text>
<text transform="translate(573.22,809.30) scale(0.9833,1)" font-size="25.0">0</text>
<text transform="translate(513.51,973.00) scale(1.0514,1)" font-size="35.2">10</text>
<text transform="translate(556.45,960.20) scale(1.1615,1)" font-size="25.0">−1</text>
<text transform="translate(134.65,1001.10) scale(1.0985,1)" font-size="35.2">0</text>
<text transform="translate(244.86,1001.10) scale(1.0242,1)" font-size="35.2">5</text>
<text transform="translate(343.56,1001.10) scale(1.0686,1)" font-size="35.2">10</text>
<text transform="translate(453.01,1001.10) scale(1.0857,1)" font-size="35.2">15</text>
<text transform="translate(595.45,1001.10) scale(1.0985,1)" font-size="35.2">0</text>
<text transform="translate(705.66,1001.10) scale(1.0242,1)" font-size="35.2">5</text>
<text transform="translate(804.36,1001.10) scale(1.0686,1)" font-size="35.2">10</text>
<text transform="translate(913.81,1001.10) scale(1.0857,1)" font-size="35.2">15</text>
<text transform="translate(218.13,1045.80) scale(1.0155,1)" font-size="35.2"><tspan font-style="italic">δ</tspan> (2<tspan font-style="italic">π</tspan> MHz)</text>
<text transform="translate(669.36,1045.80) scale(1.0262,1)" font-size="35.2">|<tspan font-style="italic">δ</tspan>| (2<tspan font-style="italic">π</tspan> MHz)</text>
<text transform="translate(25.30,291.73) rotate(-90) scale(0.9300,1)" font-size="35.2"><tspan font-style="italic">E</tspan><tspan font-size="24.5" dy="5.6">XY</tspan><tspan dy="-5.6">/(</tspan><tspan font-style="italic">NJ</tspan>)</text>
<text transform="translate(31.00,857.60) rotate(-90) scale(0.9716,1)" font-size="35.2">Gap Δ<tspan font-size="24.5" dy="5">0</tspan><tspan dy="-5">/</tspan><tspan font-style="italic">J</tspan></text>
<text transform="translate(272.05,459.20) scale(0.9657,1)" font-size="35.2"><tspan font-style="italic">t</tspan>-MPS</text>
<text transform="translate(271.27,496.00) scale(1.0428,1)" font-size="35.2">Ensemble</text>
<text transform="translate(272.05,545.20) scale(0.9657,1)" font-size="35.2"><tspan font-style="italic">t</tspan>-MPS</text>
<text transform="translate(271.21,582.50) scale(1.0637,1)" font-size="35.2">Near-ideal</text>
<text transform="translate(729.99,469.30) scale(1.0033,1)" font-size="35.2">DMRG g.s.</text>
<text transform="translate(730.74,506.60) scale(0.9551,1)" font-size="35.2"><tspan font-style="italic">N</tspan></text>
<text transform="translate(763.73,507.90) scale(1.2412,1)" font-size="35.2">=</text>
<text transform="translate(797.42,506.60) scale(1.0438,1)" font-size="35.2">42</text>
<text transform="translate(729.99,555.90) scale(1.0033,1)" font-size="35.2">DMRG g.s.</text>
<text transform="translate(730.74,592.60) scale(0.9551,1)" font-size="35.2"><tspan font-style="italic">N</tspan></text>
<text transform="translate(763.73,593.90) scale(1.2412,1)" font-size="35.2">=</text>
<text transform="translate(796.94,592.60) scale(1.0771,1)" font-size="35.2">100</text></svg>
</body></html>
